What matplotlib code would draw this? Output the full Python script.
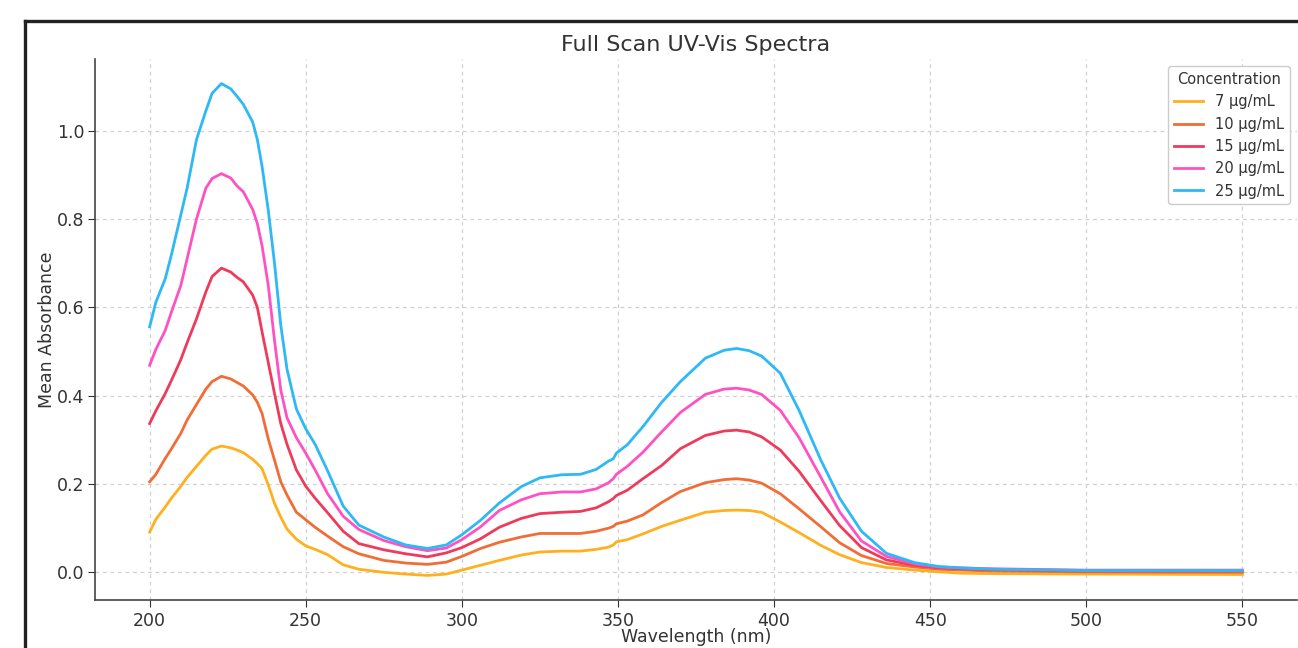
import matplotlib
matplotlib.use("Agg")
import matplotlib.pyplot as plt
from matplotlib.lines import Line2D

# wavelength grid (nm) shared by all series
wavelength = [200, 202, 205, 207, 210, 212, 215, 218, 220, 223, 226, 228, 230, 233, 234.5, 236,
              238, 240, 242, 244, 247, 250, 253, 257, 262, 267, 275, 282, 289, 295, 300, 306,
              312, 319, 325, 332, 338, 343, 347, 348.5, 349.5, 353, 358, 364, 370, 378, 384,
              388, 392, 396, 402, 408, 415, 421, 428, 436, 445, 453, 460, 470, 500, 550]

abs_7 = [0.091, 0.120, 0.148, 0.168, 0.195, 0.215, 0.240, 0.265, 0.279, 0.286, 0.282, 0.277,
         0.271, 0.256, 0.246, 0.235, 0.198, 0.156, 0.125, 0.098, 0.075, 0.060, 0.052, 0.040,
         0.017, 0.007, 0.000, -0.004, -0.007, -0.004, 0.005, 0.016, 0.027, 0.039, 0.046,
         0.048, 0.048, 0.052, 0.057, 0.062, 0.069, 0.074, 0.087, 0.104, 0.118, 0.136, 0.140,
         0.141, 0.140, 0.136, 0.114, 0.090, 0.061, 0.040, 0.022, 0.011, 0.005, 0.001, -0.002,
         -0.003, -0.004, -0.005]

abs_10 = [0.205, 0.222, 0.258, 0.280, 0.315, 0.345, 0.380, 0.415, 0.432, 0.444, 0.438, 0.430,
          0.422, 0.402, 0.385, 0.360, 0.302, 0.254, 0.205, 0.175, 0.136, 0.119, 0.102, 0.082,
          0.058, 0.042, 0.027, 0.021, 0.018, 0.023, 0.036, 0.054, 0.068, 0.080, 0.088, 0.088,
          0.088, 0.093, 0.100, 0.104, 0.110, 0.116, 0.130, 0.158, 0.183, 0.203, 0.210, 0.212,
          0.209, 0.202, 0.178, 0.144, 0.103, 0.067, 0.038, 0.020, 0.012, 0.007, 0.005, 0.003,
          0.001, 0.000]

abs_15 = [0.337, 0.366, 0.405, 0.435, 0.482, 0.520, 0.574, 0.635, 0.670, 0.689, 0.680, 0.668,
          0.658, 0.628, 0.600, 0.545, 0.475, 0.405, 0.337, 0.290, 0.232, 0.195, 0.168, 0.135,
          0.093, 0.065, 0.051, 0.042, 0.035, 0.044, 0.056, 0.076, 0.102, 0.122, 0.133, 0.136,
          0.138, 0.146, 0.160, 0.167, 0.174, 0.186, 0.212, 0.242, 0.280, 0.310, 0.320, 0.322,
          0.318, 0.307, 0.277, 0.229, 0.162, 0.106, 0.056, 0.028, 0.016, 0.010, 0.008, 0.006,
          0.003, 0.003]

abs_20 = [0.469, 0.505, 0.548, 0.590, 0.650, 0.710, 0.800, 0.870, 0.892, 0.903, 0.893, 0.875,
          0.862, 0.822, 0.790, 0.740, 0.650, 0.525, 0.413, 0.350, 0.305, 0.270, 0.232, 0.178,
          0.127, 0.097, 0.072, 0.058, 0.049, 0.055, 0.074, 0.103, 0.140, 0.164, 0.178, 0.182,
          0.182, 0.189, 0.203, 0.212, 0.222, 0.240, 0.272, 0.318, 0.362, 0.403, 0.415, 0.417,
          0.413, 0.403, 0.367, 0.305, 0.215, 0.137, 0.071, 0.036, 0.019, 0.012, 0.010, 0.008,
          0.005, 0.005]

abs_25 = [0.556, 0.612, 0.665, 0.720, 0.810, 0.870, 0.980, 1.045, 1.085, 1.107, 1.095, 1.078,
          1.060, 1.020, 0.980, 0.920, 0.820, 0.700, 0.560, 0.460, 0.370, 0.325, 0.290, 0.230,
          0.150, 0.107, 0.080, 0.062, 0.054, 0.062, 0.085, 0.118, 0.157, 0.194, 0.214, 0.221,
          0.222, 0.233, 0.252, 0.257, 0.270, 0.289, 0.330, 0.385, 0.432, 0.485, 0.503, 0.507,
          0.502, 0.490, 0.451, 0.367, 0.254, 0.168, 0.093, 0.043, 0.022, 0.013, 0.010, 0.007,
          0.004, 0.004]

labels = ["7 µg/mL", "10 µg/mL", "15 µg/mL", "20 µg/mL", "25 µg/mL"]
series = [abs_7, abs_10, abs_15, abs_20, abs_25]
colors = ["#FFB01E", "#F26D36", "#EF3B5B", "#FF52C2", "#2EB8F6"]

W, H = 1298, 648
fig = plt.figure(figsize=(W / 100, H / 100), dpi=100)
ax = fig.add_axes([95 / W, 48 / H, (1297 - 95) / W, (600 - 59) / H])

for vals, lab, col in zip(series, labels, colors):
    ax.plot(wavelength, vals, color=col, linewidth=2.0, label=lab)

ax.set_xticks([200, 250, 300, 350, 400, 450, 500, 550])
ax.set_yticks([0.0, 0.2, 0.4, 0.6, 0.8, 1.0])
ax.grid(True, linestyle=(0, (3, 3)), color="#d0d0d0", linewidth=0.9)
ax.spines["top"].set_visible(False)
ax.spines["right"].set_visible(False)
for s in ("left", "bottom"):
    ax.spines[s].set_color("#444444")
    ax.spines[s].set_linewidth(1.2)
ax.tick_params(labelsize=12.5, colors="#333333", length=5)
ax.tick_params(axis="y", pad=2.5)

ax.set_title("Full Scan UV-Vis Spectra", fontsize=16, color="#333333", pad=6)
ax.set_xlabel("Wavelength (nm)", fontsize=12.5, color="#333333", labelpad=-1)
ax.set_ylabel("Mean Absorbance", fontsize=12.5, color="#333333", labelpad=1)

leg = ax.legend(title="Concentration", loc="upper right", fontsize=10.5,
                title_fontsize=10.5, labelspacing=0.5, framealpha=1,
                edgecolor="#cccccc", borderaxespad=0.5)
for t in leg.get_texts():
    t.set_color("#333333")
leg.get_title().set_color("#333333")

# screenshot frame around the figure
fig.add_artist(Line2D([25 / W, 1], [1 - 20.5 / H, 1 - 20.5 / H], color="#222222", linewidth=2.4))
fig.add_artist(Line2D([25 / W, 25 / W], [0, 1 - 20.5 / H], color="#222222", linewidth=2.4))

fig.savefig("out.png", dpi=100)
